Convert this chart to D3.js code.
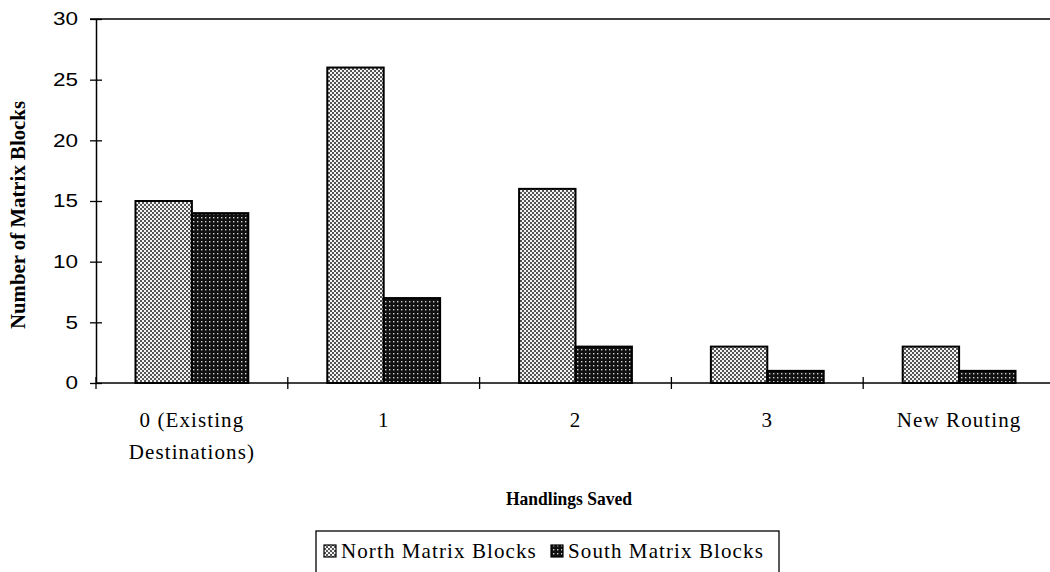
<!DOCTYPE html>
<html>
<head>
<meta charset="utf-8">
<script src="https://cdn.jsdelivr.net/npm/d3@7"></script>
<style>
  html, body { margin: 0; padding: 0; background: #fff; }
  svg { display: block; }
</style>
</head>
<body>
<svg id="chart" width="1050" height="572"></svg>
<script>
// Handlings saved per matrix block, by yard
const categories = ["0 (Existing\nDestinations)", "1", "2", "3", "New Routing"];
const seriesNames = ["North Matrix Blocks", "South Matrix Blocks"];
const northValues = [15, 26, 16, 3, 3];
const southValues = [14, 7, 3, 1, 1];
const yTicks = [0, 5, 10, 15, 20, 25, 30];

const svg = d3.select("#chart");
const margin = { left: 96, top: 19, right: -5, bottom: 189 };
const W = 1050, H = 572;
const plotRight = W - margin.right;
const plotBottom = H - margin.bottom;
const serif = "Liberation Serif, Times New Roman, serif";

const defs = svg.append("defs");
// light stipple for North
const pN = defs.append("pattern").attr("id", "patN")
  .attr("patternUnits", "userSpaceOnUse").attr("width", 4).attr("height", 4);
pN.append("rect").attr("width", 4).attr("height", 4).attr("fill", "#f4f4f4");
pN.append("rect").attr("x", 0).attr("y", 0).attr("width", 2).attr("height", 2).attr("fill", "#555");
pN.append("rect").attr("x", 2).attr("y", 2).attr("width", 2).attr("height", 2).attr("fill", "#555");
// dark stipple for South
const pS = defs.append("pattern").attr("id", "patS")
  .attr("patternUnits", "userSpaceOnUse").attr("width", 4).attr("height", 4);
pS.append("rect").attr("width", 4).attr("height", 4).attr("fill", "#111");
pS.append("rect").attr("x", 1).attr("y", 1).attr("width", 1.4).attr("height", 1.4).attr("fill", "#cfcfcf");

const x0 = d3.scaleBand().domain(d3.range(categories.length))
  .range([margin.left, plotRight]).paddingInner(0).paddingOuter(0);
const x1 = d3.scaleBand().domain([0, 1]).range([0, x0.bandwidth()]).paddingOuter(0.7).paddingInner(0);
const y = d3.scaleLinear().domain([0, 30]).range([plotBottom, margin.top]);

const fills = ["url(#patN)", "url(#patS)"];
const rows = categories.map((c, i) => ({ i, vals: [northValues[i], southValues[i]] }));

// bars
const g = svg.append("g");
rows.forEach(r => {
  r.vals.forEach((v, s) => {
    g.append("rect")
      .attr("x", x0(r.i) + x1(s))
      .attr("y", y(v))
      .attr("width", x1.bandwidth())
      .attr("height", y(0) - y(v))
      .attr("fill", fills[s])
      .attr("stroke", "#000")
      .attr("stroke-width", 2);
  });
});

// top frame line
svg.append("line").attr("x1", margin.left - 6).attr("x2", W)
  .attr("y1", y(30)).attr("y2", y(30)).attr("stroke", "#000").attr("stroke-width", 1.5);

// y axis
const yAxis = d3.axisLeft(y).tickValues(yTicks).tickSizeInner(6).tickSizeOuter(0).tickPadding(0);
const yg = svg.append("g").attr("transform", `translate(${margin.left},0)`).call(yAxis);
yg.select(".domain").attr("stroke", "#000").attr("stroke-width", 1.5);
yg.selectAll(".tick line").attr("x1", -6).attr("x2", 6).attr("stroke", "#000").attr("stroke-width", 1.3);
yg.selectAll(".tick text")
  .attr("x", 0)
  .attr("transform", "translate(-18,0) scale(1.25,1)")
  .attr("font-family", "Liberation Sans, Arial, sans-serif")
  .attr("font-size", 18).attr("fill", "#000");

// x axis with ticks at category boundaries
const xg = svg.append("g");
xg.append("line").attr("x1", margin.left).attr("x2", W)
  .attr("y1", y(0)).attr("y2", y(0)).attr("stroke", "#000").attr("stroke-width", 1.5);
d3.range(categories.length + 1).forEach(i => {
  const xx = margin.left + i * x0.step();
  if (xx > W) return;
  xg.append("line").attr("x1", xx).attr("x2", xx)
    .attr("y1", y(0) - 6).attr("y2", y(0) + 6).attr("stroke", "#000").attr("stroke-width", 1.3);
});
categories.forEach((c, i) => {
  const cx = x0(i) + x0.bandwidth() / 2;
  const t = xg.append("text")
    .attr("x", cx)
    .attr("y", 427)
    .attr("text-anchor", "middle")
    .attr("font-family", serif)
    .attr("font-size", 21).attr("letter-spacing", 1.1).attr("fill", "#000");
  c.split("\n").forEach((line, k) => {
    t.append("tspan").attr("x", cx).attr("dy", k === 0 ? 0 : 32).text(line);
  });
});

// axis titles
svg.append("text").attr("x", 569).attr("y", 505).attr("text-anchor", "middle")
  .attr("font-family", serif)
  .attr("font-weight", "bold").attr("font-size", 19).attr("fill", "#000")
  .attr("textLength", 126).attr("lengthAdjust", "spacingAndGlyphs")
  .text("Handlings Saved");
svg.append("text").attr("transform", "translate(25,215) rotate(-90)")
  .attr("text-anchor", "middle")
  .attr("font-family", serif)
  .attr("font-weight", "bold").attr("font-size", 20).attr("fill", "#000")
  .attr("textLength", 228).attr("lengthAdjust", "spacingAndGlyphs")
  .text("Number of Matrix Blocks");

// legend
const lg = svg.append("g");
lg.append("rect").attr("x", 316).attr("y", 531).attr("width", 463).attr("height", 60)
  .attr("fill", "none").attr("stroke", "#000").attr("stroke-width", 1.3);
const legX = [324, 551];
seriesNames.forEach((name, s) => {
  lg.append("rect").attr("x", legX[s]).attr("y", 545).attr("width", 12).attr("height", 12)
    .attr("fill", fills[s]).attr("stroke", "#000").attr("stroke-width", 1.2);
  lg.append("text").attr("x", legX[s] + 17).attr("y", 558)
    .attr("font-family", serif)
    .attr("font-size", 21).attr("letter-spacing", 1.1).attr("fill", "#000").text(name);
});
</script>
</body>
</html>
